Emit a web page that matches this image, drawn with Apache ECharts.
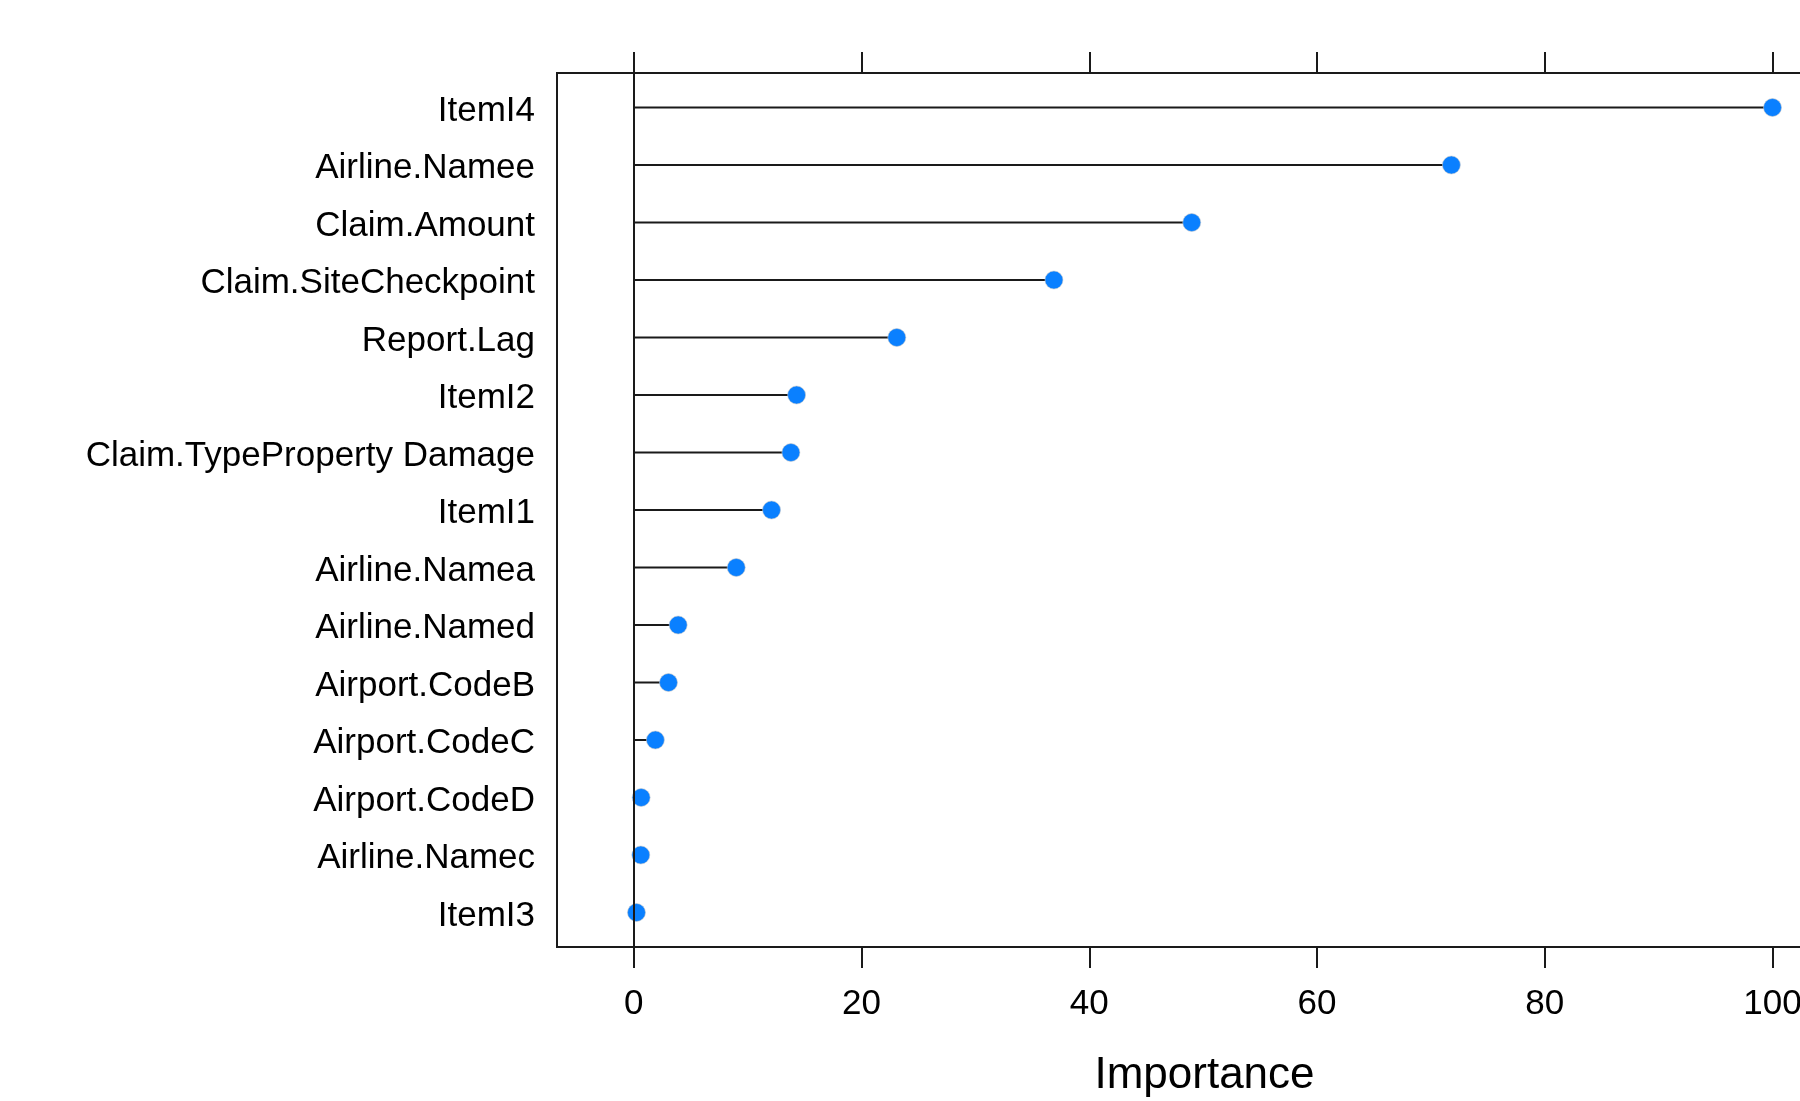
<!DOCTYPE html>
<html>
<head>
<meta charset="utf-8">
<script src="https://cdn.jsdelivr.net/npm/echarts@6/dist/echarts.min.js"></script>
<style>
html,body{margin:0;padding:0;background:#fff;overflow:hidden;}
#chart{width:1800px;height:1101px;}
</style>
</head>
<body>
<div id="chart"></div>
<script>
const categories = ["ItemI4","Airline.Namee","Claim.Amount","Claim.SiteCheckpoint","Report.Lag","ItemI2","Claim.TypeProperty Damage","ItemI1","Airline.Namea","Airline.Named","Airport.CodeB","Airport.CodeC","Airport.CodeD","Airline.Namec","ItemI3"];
const importance = [100, 71.8, 49.0, 36.9, 23.1, 14.3, 13.8, 12.1, 9.0, 3.9, 3.05, 1.9, 0.65, 0.62, 0.24];
const xTicks = [0, 20, 40, 60, 80, 100];
const rowIndex = categories.map((c, i) => i);

const points = importance.map((v, i) => [v, rowIndex[i]]);
const FONT = "'Liberation Sans', Arial, Helvetica, sans-serif";
const INK = '#1a1a1a';

const chart = echarts.init(document.getElementById('chart'), null, {renderer: 'canvas'});
chart.setOption({
  animation: false,
  backgroundColor: '#fff',
  grid: {
    left: 557, top: 73, width: 1295, height: 874,
    outerBoundsMode: 'none',
    containLabel: false,
    show: true, borderColor: INK, borderWidth: 2, backgroundColor: 'transparent'
  },
  xAxis: [{
    type: 'value', position: 'bottom', min: -6.74, max: 106.98,
    splitLine: {show: false},
    axisLine: {show: true, onZero: false, lineStyle: {color: INK, width: 2}},
    axisTick: {show: true, inside: false, length: 21, customValues: xTicks, lineStyle: {color: INK, width: 2}},
    axisLabel: {show: true, customValues: xTicks, margin: 40, fontSize: 35, fontFamily: FONT, color: '#000'},
    name: 'Importance', nameLocation: 'middle', nameGap: 107,
    nameTextStyle: {fontSize: 44, fontFamily: FONT, color: '#000'}
  }, {
    type: 'value', position: 'top', min: -6.74, max: 106.98,
    splitLine: {show: false},
    axisLine: {show: true, onZero: false, lineStyle: {color: INK, width: 2}},
    axisTick: {show: true, inside: false, length: 21, customValues: xTicks, lineStyle: {color: INK, width: 2}},
    axisLabel: {show: false}
  }],
  yAxis: {
    type: 'value', min: -0.6, max: 14.6, inverse: true,
    splitLine: {show: false},
    axisLine: {show: false, onZero: false},
    axisTick: {show: false},
    axisLabel: {
      show: true, customValues: rowIndex, margin: 22, fontSize: 35, fontFamily: FONT, color: '#000',
      formatter: v => '{t|' + categories[Math.round(v)] + '}',
      rich: {t: {fontSize: 35, fontFamily: FONT, color: '#000', padding: [7, 0, 0, 0]}}
    }
  },
  series: [{
    type: 'custom',
    xAxisIndex: 0,
    data: points,
    renderItem: function (params, api) {
      const y = api.value(1);
      const s = api.coord([0, y]);
      const e = api.coord([api.value(0), y]);
      return {type: 'line', shape: {x1: s[0], y1: s[1], x2: e[0], y2: e[1]}, style: {stroke: INK, lineWidth: 2}};
    },
    z: 2,
    silent: true
  }, {
    type: 'scatter',
    xAxisIndex: 0,
    data: points,
    symbol: 'circle',
    symbolSize: 18,
    itemStyle: {color: '#0A80FF', borderColor: 'rgba(200,200,200,0.7)', borderWidth: 0.8, opacity: 1},
    z: 3,
    silent: true,
    markLine: {
      silent: true, symbol: 'none', label: {show: false},
      lineStyle: {color: INK, width: 2, type: 'solid'},
      data: [{xAxis: 0}]
    }
  }]
});
</script>
</body>
</html>
